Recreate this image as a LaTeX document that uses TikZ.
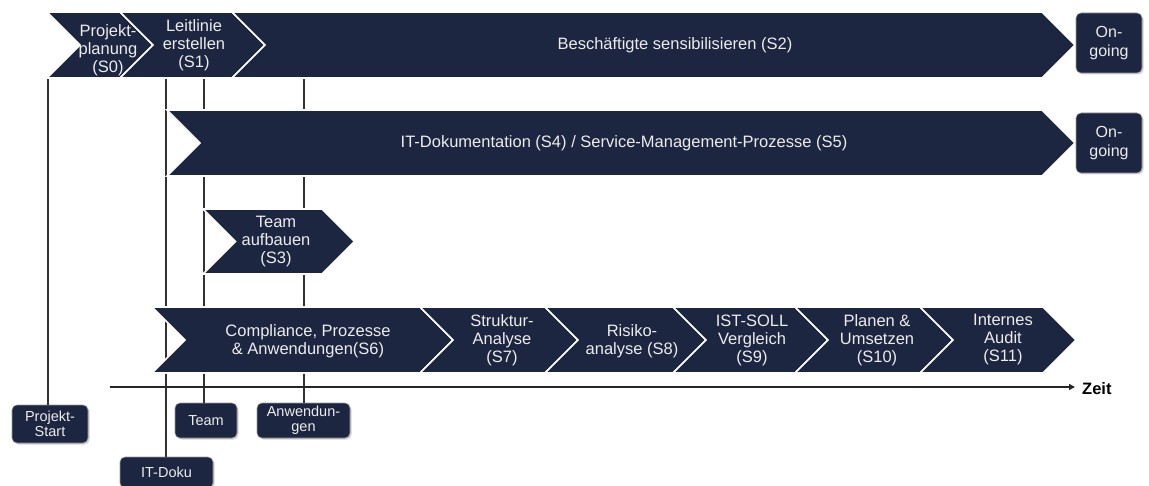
\documentclass[tikz,border=0pt]{standalone}
\usepackage{fontspec}
\setmainfont{Liberation Sans}
\usetikzlibrary{arrows.meta,shadows}
\definecolor{navy}{RGB}{29,38,64}
\definecolor{txt}{RGB}{236,236,236}
\definecolor{vline}{RGB}{50,50,50}
\tikzset{
  chev/.style={fill=navy, draw=white, line width=1.6pt, line join=miter},
  chevtext/.style={text=txt, align=center, font=\fontsize{16.5}{18}\selectfont, inner sep=0pt},
  tag/.style={fill=navy, rounded corners=5pt, text=txt, align=center,
    font=\fontsize{14.5}{15}\selectfont, inner sep=0pt, draw=black!40, line width=0.6pt,
    drop shadow={opacity=0.35, shadow xshift=1.5pt, shadow yshift=-1.5pt}},
  ongoing/.style={tag, font=\fontsize{16}{19}\selectfont, minimum width=66pt, minimum height=60pt},
  guide/.style={draw=vline, line width=1.1pt},
  axis/.style={draw=black!85, line width=1.8pt, -{Triangle[length=6pt,width=6pt]}},
  zeit/.style={font=\bfseries\fontsize{16.5}{18}\selectfont, text=black, inner sep=0pt, anchor=west},
}
\newcommand\mychev[8]{%
  \pgfmathsetmacro\chd{(#5-#4)/2}%
  \pgfmathsetmacro\chm{(#5+#4)/2}%
  \path[chev] (#2,#4) -- (#3,#4) -- ({#3+\chd},\chm) -- (#3,#5) -- (#2,#5) -- ({#2+\chd},\chm) -- cycle;
  \node[chevtext] (#1) at (#6,#7) {#8};
}
\begin{document}
\begin{tikzpicture}[x=1pt,y=-1pt]
\useasboundingbox[fill=white] (0,0) rectangle (1149,486);
% bottom tags
\node[tag, minimum width=76pt, minimum height=38pt] (pstart) at (50,424) {Projekt-\\Start};
\node[tag, minimum width=62pt, minimum height=35pt] (team) at (206,420.5) {Team};
\node[tag, minimum width=93pt, minimum height=35pt] (anw) at (303.5,420.5) {Anwendun-\\gen};
\node[tag, minimum width=93pt, minimum height=31pt] (itdoku) at (166.5,472.5) {IT-Doku};
% guide lines
\coordinate (c0) at (48,78);
\coordinate (c1) at (166,78);
\coordinate (c2) at (204,78);
\coordinate (c3) at (304,78);
\draw[guide] (c0) -- (c0 |- pstart.north);
\draw[guide] (c1) -- (c1 |- itdoku.north);
\draw[guide] (c2) -- (c2 |- team.north);
\draw[guide] (c3) -- (c3 |- anw.north);
% row 1
\mychev{s0}{47}{120}{12}{78}{108}{50}{Projekt-\\planung\\(S0)}
\mychev{s1}{120}{232}{12}{78}{194}{45}{Leitlinie\\erstellen\\(S1)}
\mychev{s2}{232}{1042}{12}{78}{675}{45}{Besch\"aftigte sensibilisieren (S2)}
\node[ongoing] (og1) at (1109,43) {On-\\going};
% row 2
\mychev{s45}{167}{1042}{110}{176}{624}{143}{IT-Dokumentation (S4) / Service-Management-Prozesse (S5)}
\node[ongoing] (og2) at (1109,143) {On-\\going};
% row 3
\mychev{s3}{203}{322}{209}{274}{276}{242}{Team\\aufbauen\\(S3)}
% row 4
\mychev{s6}{152}{420}{307}{373}{308}{341}{Compliance, Prozesse\\\& Anwendungen(S6)}
\mychev{s7}{420}{545}{307}{373}{502}{340}{Struktur-\\Analyse\\(S7)}
\mychev{s8}{545}{673}{307}{373}{632}{341}{Risiko-\\analyse (S8)}
\mychev{s9}{673}{795}{307}{373}{752}{340}{IST-SOLL\\Vergleich\\(S9)}
\mychev{s10}{795}{920}{307}{373}{877}{340}{Planen \&\\Umsetzen\\(S10)}
\mychev{s11}{920}{1043}{307}{373}{1003}{340}{Internes\\Audit\\(S11)}
% time axis
\coordinate (a0) at (110,387);
\node[zeit] (zeit) at (1082,389) {Zeit};
\draw[axis] (a0) -- ([xshift=-7pt]zeit.west |- a0);
\end{tikzpicture}
\end{document}
